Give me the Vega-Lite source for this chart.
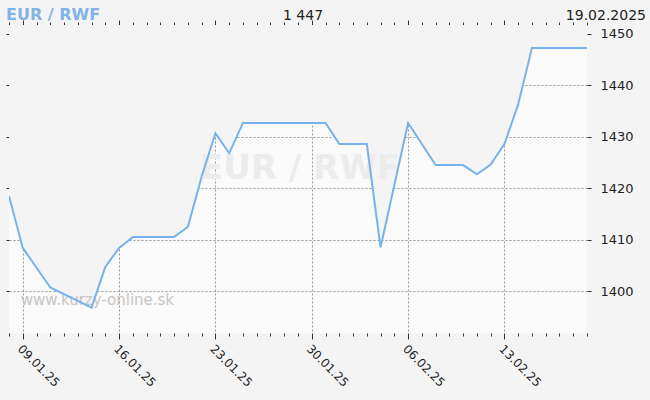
{
  "$schema": "https://vega.github.io/schema/vega-lite/v6.json",
  "width": 578,
  "height": 308,
  "autosize": "none",
  "padding": {"left": 9, "top": 25, "right": 63, "bottom": 67},
  "background": "#f4f4f4",
  "view": {"fill": "#fafafa", "stroke": null},
  "config": {"font": "DejaVu Sans"},
  "datasets": {
    "rates": [
      {"date": "2025-01-08", "value": 1418.5},
      {"date": "2025-01-09", "value": 1408.4},
      {"date": "2025-01-11", "value": 1400.7},
      {"date": "2025-01-14", "value": 1396.8},
      {"date": "2025-01-15", "value": 1404.7},
      {"date": "2025-01-16", "value": 1408.4},
      {"date": "2025-01-17", "value": 1410.5},
      {"date": "2025-01-20", "value": 1410.5},
      {"date": "2025-01-21", "value": 1412.5},
      {"date": "2025-01-22", "value": 1422.3},
      {"date": "2025-01-23", "value": 1430.7},
      {"date": "2025-01-24", "value": 1426.8},
      {"date": "2025-01-25", "value": 1432.7},
      {"date": "2025-01-31", "value": 1432.7},
      {"date": "2025-02-01", "value": 1428.6},
      {"date": "2025-02-03", "value": 1428.6},
      {"date": "2025-02-04", "value": 1408.5},
      {"date": "2025-02-06", "value": 1432.7},
      {"date": "2025-02-08", "value": 1424.5},
      {"date": "2025-02-10", "value": 1424.5},
      {"date": "2025-02-11", "value": 1422.7},
      {"date": "2025-02-12", "value": 1424.6},
      {"date": "2025-02-13", "value": 1428.6},
      {"date": "2025-02-14", "value": 1436.3},
      {"date": "2025-02-15", "value": 1447.3},
      {"date": "2025-02-19", "value": 1447.3}
    ],
    "one": [{}]
  },
  "layer": [
    {
      "data": {"name": "rates"},
      "mark": {"type": "area", "fill": "#f4f4f4", "clip": true},
      "encoding": {
        "x": {
          "field": "date", "type": "temporal",
          "scale": {"type": "utc", "nice": false, "domain": [{"year": 2025, "month": 1, "date": 8, "utc": true}, {"year": 2025, "month": 2, "date": 19, "utc": true}]},
          "axis": {
            "orient": "bottom", "title": null, "domain": false,
            "tickCount": {"interval": "day", "step": 1},
            "tickColor": "#333", "tickSize": {"condition": {"test": "utcday(datum.value) == 4", "value": 6}, "value": 3},
            "grid": true, "gridColor": "#999", "gridDash": [2, 2],
            "gridOpacity": {"condition": {"test": "utcday(datum.value) == 4", "value": 1}, "value": 0},
            "labelExpr": "utcday(datum.value) == 4 ? utcFormat(datum.value, '%d.%m.%y') : ''",
            "labelAngle": 45, "labelAlign": "left", "labelBaseline": "top",
            "labelFontSize": 12, "labelColor": "#222", "labelPadding": 4, "labelOverlap": false, "labelFlush": false
          }
        },
        "y": {
          "field": "value", "type": "quantitative",
          "scale": {"domain": [1391.85, 1451.75], "nice": false, "zero": false},
          "axis": {
            "orient": "right", "title": null, "domain": false,
            "values": [1400, 1410, 1420, 1430, 1440, 1450], "format": "d",
            "tickColor": "#333", "tickSize": 4,
            "grid": true, "gridColor": "#999", "gridDash": [2, 2],
            "labelFontSize": 13, "labelColor": "#222", "labelPadding": 9
          }
        },
        "y2": {"datum": 1451.75}
      }
    },
    {
      "data": {"name": "one"},
      "mark": {"type": "text", "fontSize": 34, "fontWeight": "bold", "color": "#ececec", "align": "center", "baseline": "middle", "dx": 2},
      "encoding": {
        "x": {"datum": {"year": 2025, "month": 1, "date": 29, "utc": true}, "type": "temporal", "axis": null},
        "y": {"datum": 1423.7, "type": "quantitative", "axis": null},
        "text": {"value": "EUR / RWF"}
      }
    },
    {
      "data": {"name": "one"},
      "mark": {"type": "text", "fontSize": 15, "color": "#c6c6c6", "align": "left", "baseline": "alphabetic", "dx": -2},
      "encoding": {
        "x": {"datum": {"year": 2025, "month": 1, "date": 9, "utc": true}, "type": "temporal", "axis": null},
        "y": {"datum": 1397.3, "type": "quantitative", "axis": null},
        "text": {"value": "www.kurzy-online.sk"}
      }
    },
    {
      "data": {"name": "rates"},
      "mark": {"type": "line", "color": "#78b2ea", "strokeWidth": 2, "clip": true},
      "encoding": {
        "x": {
          "field": "date", "type": "temporal",
          "axis": {
            "orient": "top", "title": null, "domain": false, "labels": false, "grid": false,
            "tickCount": {"interval": "day", "step": 1},
            "tickColor": "#333", "tickSize": {"condition": {"test": "utcday(datum.value) == 4", "value": 5}, "value": 3}
          }
        },
        "y": {
          "field": "value", "type": "quantitative",
          "axis": {
            "orient": "left", "title": null, "domain": false, "labels": false, "grid": false,
            "values": [1400, 1410, 1420, 1430, 1440, 1450],
            "tickColor": "#333", "tickSize": 3
          }
        }
      }
    },
    {
      "data": {"name": "one"},
      "mark": {"type": "text", "fontSize": 16, "fontWeight": "bold", "color": "#80b4e8", "align": "left", "baseline": "alphabetic", "dx": -3, "dy": -5},
      "encoding": {
        "x": {"datum": {"year": 2025, "month": 1, "date": 8, "utc": true}, "type": "temporal", "axis": null},
        "y": {"datum": 1451.75, "type": "quantitative", "axis": null},
        "text": {"value": "EUR / RWF"}
      }
    },
    {
      "data": {"name": "one"},
      "mark": {"type": "text", "fontSize": 14, "color": "#222", "align": "center", "baseline": "alphabetic", "dx": 5, "dy": -5},
      "encoding": {
        "x": {"datum": {"year": 2025, "month": 1, "date": 29, "utc": true}, "type": "temporal", "axis": null},
        "y": {"datum": 1451.75, "type": "quantitative", "axis": null},
        "text": {"value": "1 447"}
      }
    },
    {
      "data": {"name": "one"},
      "mark": {"type": "text", "fontSize": 14, "color": "#222", "align": "right", "baseline": "alphabetic", "dx": 59, "dy": -5},
      "encoding": {
        "x": {"datum": {"year": 2025, "month": 2, "date": 19, "utc": true}, "type": "temporal", "axis": null},
        "y": {"datum": 1451.75, "type": "quantitative", "axis": null},
        "text": {"value": "19.02.2025"}
      }
    }
  ],
  "resolve": {"axis": {"x": "independent", "y": "independent"}}
}
